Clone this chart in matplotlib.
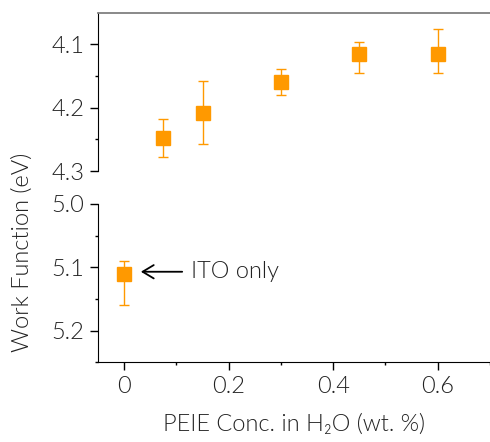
import matplotlib
matplotlib.use("Agg")
import matplotlib.pyplot as plt
from matplotlib.ticker import MultipleLocator

plt.rcParams['font.family'] = ['Lato', 'DejaVu Sans']
plt.rcParams['font.weight'] = 300
plt.rcParams['axes.labelweight'] = 300

# PEIE-coated samples
conc = [0.075, 0.15, 0.3, 0.45, 0.6]
wf = [4.248, 4.208, 4.160, 4.116, 4.116]
err_lo = [0.030, 0.050, 0.020, 0.020, 0.040]
err_hi = [0.030, 0.050, 0.021, 0.029, 0.029]

# bare ITO
ito_x = [0.0]
ito_wf = [5.110]
ito_lo = [0.020]
ito_hi = [0.050]

orange = '#ff9900'
fs = 17

fig = plt.figure(figsize=(4.9, 4.42), dpi=100)
ax1 = fig.add_axes([0.2, 0.6131, 0.8, 0.3575])
ax2 = fig.add_axes([0.2, 0.1803, 0.8, 0.3582])

ax1.errorbar(conc, wf, yerr=[err_lo, err_hi], fmt='s', color=orange, ms=10.5,
             elinewidth=1.0, capsize=3.5, capthick=1.0)
ax2.errorbar(ito_x, ito_wf, yerr=[ito_lo, ito_hi], fmt='s', color=orange, ms=10.5,
             elinewidth=1.0, capsize=3.5, capthick=1.0)

for ax in (ax1, ax2):
    ax.set_xlim(-0.05, 0.7)
    ax.spines['right'].set_visible(False)
    ax.yaxis.set_minor_locator(MultipleLocator(0.05))
    ax.tick_params(axis='both', which='major', length=6, width=1, labelsize=fs,
                   pad=4, labelcolor='#222222')
    ax.tick_params(axis='both', which='minor', length=2.5, width=1)

ax1.set_ylim(4.3, 4.051)
ax1.set_yticks([4.1, 4.2, 4.3])
ax1.set_yticklabels(['4.1', '4.2', '4.3'])
ax1.spines['bottom'].set_visible(False)
ax1.spines['top'].set_color('#808080')
ax1.spines['top'].set_linewidth(1.3)
ax1.tick_params(axis='x', which='both', bottom=False, labelbottom=False)

ax2.set_ylim(5.25, 5.0)
ax2.set_yticks([5.0, 5.1, 5.2])
ax2.set_yticklabels(['5.0', '5.1', '5.2'])
ax2.spines['top'].set_visible(False)
ax2.set_xticks([0, 0.2, 0.4, 0.6])
ax2.set_xticklabels(['0', '0.2', '0.4', '0.6'])
ax2.xaxis.set_minor_locator(MultipleLocator(0.1))

ax2.annotate('ITO only', xy=(0.032, 5.107), xytext=(0.127, 5.107),
             fontsize=fs, color='#222222', va='center',
             arrowprops=dict(arrowstyle='->, head_length=0.5, head_width=0.3',
                             color='black', lw=1.3, mutation_scale=16,
                             shrinkA=4, shrinkB=0))

ax2.set_xlabel('PEIE Conc. in H\u2082O (wt. %)', fontsize=fs, color='#222222',
               fontweight=300, labelpad=12)
fig.text(0.045, 0.43, 'Work Function (eV)', rotation=90, fontsize=fs,
         color='#222222', ha='center', va='center')

fig.savefig('out.png', dpi=100)
